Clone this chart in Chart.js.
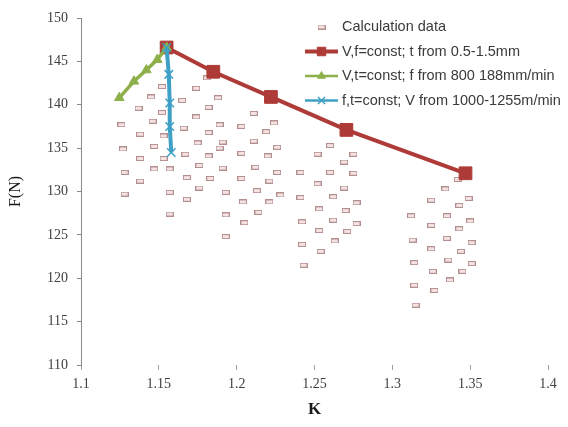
<!DOCTYPE html>
<html>
<head>
<meta charset="utf-8">
<script src="https://cdn.jsdelivr.net/npm/chart.js@4.4.0/dist/chart.umd.min.js"></script>
<style>
    html, body { margin: 0; padding: 0; background: #fff; }
    #wrap { width: 568px; height: 427px; }
</style>
</head>
<body>
<div id="wrap"><canvas id="chart"></canvas></div>
<script>
// series names as in the legend
const seriesNames = [
    'Calculation data',
    'V,f=const; t from 0.5-1.5mm',
    'V,t=const; f from 800 188mm/min',
    'f,t=const; V from 1000-1255m/min'
];

// calculation data (K, F)
const calcK = [
    1.152, 1.145, 1.137, 1.152, 1.146, 1.126, 1.138, 1.153, 1.147, 1.127, 1.138, 1.153, 1.147, 1.157, 1.128, 1.138, 1.157, 1.128, 1.157,
    1.181, 1.174, 1.188, 1.165, 1.182, 1.211, 1.174, 1.189, 1.203, 1.224, 1.166, 1.182, 1.219, 1.175, 1.191, 1.211, 1.189, 1.226, 1.203, 1.167,
    1.182, 1.220, 1.176, 1.191, 1.212, 1.226, 1.168, 1.183, 1.203, 1.221, 1.176, 1.193, 1.213, 1.228, 1.168, 1.204, 1.221, 1.193, 1.214, 1.205, 1.193,
    1.260, 1.252, 1.275, 1.269, 1.241, 1.260, 1.275, 1.252, 1.269, 1.241, 1.262, 1.277, 1.253, 1.270, 1.242, 1.262, 1.277, 1.253, 1.271, 1.263, 1.242, 1.254, 1.243,
    1.342, 1.334, 1.325, 1.349, 1.343, 1.312, 1.335, 1.350, 1.325, 1.343, 1.313, 1.335, 1.351, 1.325, 1.344, 1.314, 1.336, 1.351, 1.326, 1.345, 1.314, 1.337, 1.327, 1.315
];
const calcF = [
    142.1, 140.9, 139.6, 139.1, 138.1, 137.7, 136.6, 136.4, 135.2, 134.9, 133.8, 133.8, 132.6, 132.6, 132.2, 131.2, 129.9, 129.7, 127.4,
    143.1, 141.9, 140.8, 140.5, 139.7, 139.0, 138.6, 137.7, 137.5, 137.9, 137.3, 136.8, 136.9, 135.6, 135.7, 135.8, 135.0, 135.1, 134.4, 134.3,
    134.1, 134.1, 133.0, 132.7, 132.8, 132.2, 131.6, 131.5, 131.5, 131.2, 130.4, 129.9, 130.1, 129.6, 129.1, 128.8, 128.8, 127.3, 127.6, 126.4, 124.8,
    135.3, 134.3, 134.3, 133.4, 132.2, 132.2, 132.1, 130.9, 130.4, 129.3, 129.4, 128.7, 128.0, 127.8, 126.5, 126.7, 126.3, 125.5, 125.4, 124.3, 123.9, 123.1, 121.5,
    131.4, 130.3, 129.0, 129.2, 128.4, 127.2, 127.2, 126.6, 126.1, 125.7, 124.4, 124.6, 124.1, 123.4, 123.1, 121.8, 122.1, 121.7, 120.8, 120.8, 119.2, 119.8, 118.6, 116.9
];

// V,f = const, t varies
const depthK = [1.155, 1.185, 1.222, 1.2705, 1.347];
const depthF = [146.6, 143.8, 140.9, 137.1, 132.1];

// V,t = const, f varies
const feedK = [1.1246, 1.134, 1.142, 1.149, 1.155];
const feedF = [140.8, 142.7, 144.0, 145.2, 146.6];

// f,t = const, V varies
const speedK = [1.155, 1.1564, 1.157, 1.157, 1.158];
const speedF = [146.6, 143.5, 140.2, 137.5, 134.5];

const toPoints = (xs, ys) => xs.map((x, i) => ({ x: x, y: ys[i] }));

// small hollow bar used for the calculation points
const dash = document.createElement('canvas');
dash.width = 8;
dash.height = 5;
const dctx = dash.getContext('2d');
dctx.fillStyle = '#f5e3e3';
dctx.fillRect(0.5, 0.5, 7, 4);
dctx.strokeStyle = '#b48f8f';
dctx.lineWidth = 1;
dctx.strokeRect(0.5, 0.5, 7, 4);

const colors = ['#b48f8f', '#ae3b37', '#8db04a', '#3fa0c6'];

// legend drawn inside the plot, top right (marker sizes are smaller than on the plot)
const legendRadius = [4, 6, 4.5, 5];
const legendLine = [0, 4, 2.5, 2.5];

const insideLegend = {
    id: 'insideLegend',
    afterDraw(chart) {
        const ctx = chart.ctx;
        const x0 = 305, x1 = 338, tx = 342;
        ctx.save();
        ctx.font = '14.5px "Liberation Sans", Arial, sans-serif';
        ctx.textBaseline = 'middle';
        seriesNames.forEach((name, i) => {
            const ds = chart.data.datasets[i];
            const y = 27 + i * 24.5;
            if (i > 0) {
                ctx.strokeStyle = ds.borderColor;
                ctx.lineWidth = legendLine[i];
                ctx.beginPath();
                ctx.moveTo(x0, y);
                ctx.lineTo(x1, y);
                ctx.stroke();
            }
            ctx.fillStyle = ds.pointBackgroundColor || ds.backgroundColor;
            ctx.strokeStyle = ds.pointBorderColor || ds.borderColor;
            ctx.lineWidth = ds.pointBorderWidth || 1;
            Chart.helpers.drawPoint(ctx, {
                pointStyle: ds.pointStyle,
                radius: legendRadius[i],
                rotation: 0,
                borderWidth: ds.pointBorderWidth || 1
            }, (x0 + x1) / 2, y);
            ctx.fillStyle = '#3a3a3a';
            ctx.fillText(name, tx, y);
        });
        ctx.restore();
    }
};

new Chart(document.getElementById('chart'), {
    type: 'scatter',
    data: {
        datasets: [
            {
                label: seriesNames[0],
                data: toPoints(calcK, calcF),
                pointStyle: dash,
                pointRadius: 4,
                backgroundColor: colors[0],
                borderColor: colors[0],
                order: 4
            },
            {
                label: seriesNames[1],
                data: toPoints(depthK, depthF),
                showLine: true,
                borderColor: colors[1],
                backgroundColor: colors[1],
                borderWidth: 4,
                pointStyle: 'rect',
                pointRadius: 9,
                pointBackgroundColor: colors[1],
                pointBorderColor: colors[1],
                pointBorderWidth: 1,
                order: 3
            },
            {
                label: seriesNames[2],
                data: toPoints(feedK, feedF),
                showLine: true,
                borderColor: colors[2],
                backgroundColor: colors[2],
                borderWidth: 3.5,
                pointStyle: 'triangle',
                pointRadius: 5.5,
                pointBackgroundColor: colors[2],
                pointBorderColor: colors[2],
                pointBorderWidth: 1,
                order: 2
            },
            {
                label: seriesNames[3],
                data: toPoints(speedK, speedF),
                showLine: true,
                borderColor: colors[3],
                backgroundColor: colors[3],
                borderWidth: 4,
                pointStyle: 'crossRot',
                pointRadius: 6,
                pointBackgroundColor: colors[3],
                pointBorderColor: colors[3],
                pointBorderWidth: 1.5,
                order: 1
            }
        ]
    },
    options: {
        responsive: true,
        maintainAspectRatio: false,
        animation: false,
        layout: { padding: { top: 18, right: 20, left: 0, bottom: 0 } },
        plugins: {
            legend: { display: false },
            tooltip: { enabled: false }
        },
        scales: {
            x: {
                type: 'linear',
                min: 1.1,
                max: 1.4,
                ticks: {
                    stepSize: 0.05,
                    padding: 6,
                    color: '#404040',
                    font: { family: '"Liberation Serif", "Times New Roman", serif', size: 14 },
                    callback: (v) => String(Math.round(v * 100) / 100)
                },
                grid: { drawOnChartArea: false, drawTicks: true, tickLength: 5, color: '#a0a0a0' },
                border: { display: false },
                title: {
                    display: true,
                    text: 'K',
                    color: '#1a1a1a',
                    font: { family: '"Liberation Serif", "Times New Roman", serif', size: 17, weight: 'bold' },
                    padding: { top: 0, bottom: 7 }
                },
                afterFit: (s) => { s.height = 62; }
            },
            y: {
                type: 'linear',
                min: 110,
                max: 150,
                ticks: {
                    stepSize: 5,
                    padding: 9,
                    color: '#404040',
                    font: { family: '"Liberation Serif", "Times New Roman", serif', size: 14 }
                },
                grid: { drawOnChartArea: false, drawTicks: true, tickLength: 4, color: '#8a8a8a' },
                border: { display: true, color: '#8a8a8a', width: 1 },
                title: {
                    display: true,
                    text: 'F(N)',
                    color: '#1a1a1a',
                    font: { family: '"Liberation Serif", "Times New Roman", serif', size: 16 },
                    padding: { top: 6, bottom: 0 }
                },
                afterFit: (s) => { s.width = 81; }
            }
        }
    },
    plugins: [insideLegend]
});
</script>
</body>
</html>
